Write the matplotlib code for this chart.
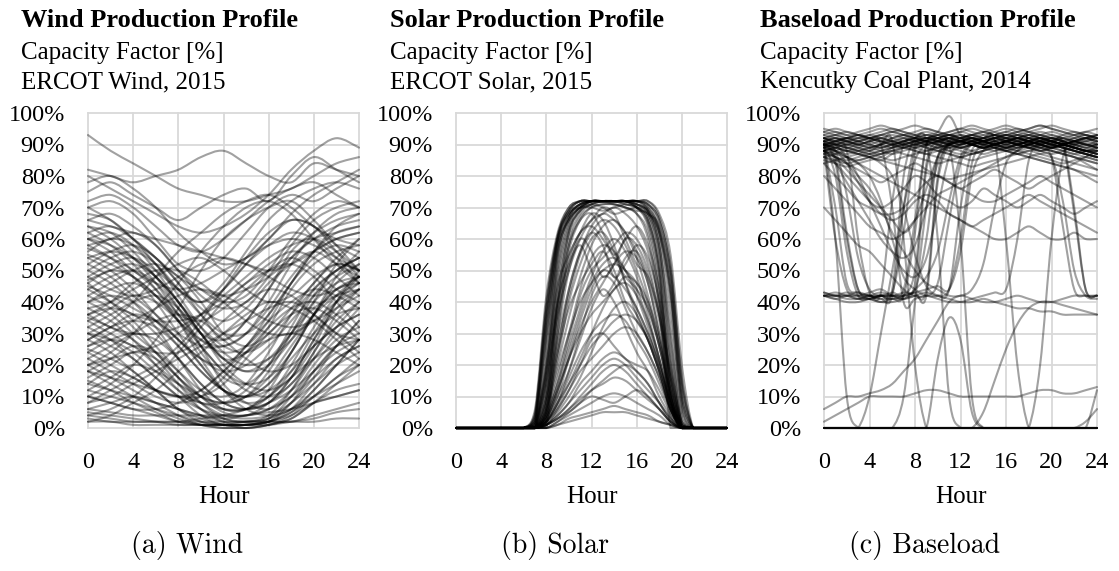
import matplotlib
matplotlib.use("Agg")
import matplotlib.pyplot as plt
from matplotlib.path import Path
from matplotlib.patches import PathPatch
from matplotlib.ticker import FuncFormatter

# ---------------------------------------------------------------- data
# Daily capacity-factor profiles [%]

WIND_HOURS = [0, 2, 4, 6, 8, 10, 12, 14, 16, 18, 20, 22, 24]
WIND_PROFILES = [
    [93, 88, 84, 80, 76, 74, 72, 72, 74, 76, 80, 84, 86],
    [82, 80, 78, 80, 82, 86, 88, 84, 80, 78, 84, 82, 80],
    [80, 76, 72, 68, 64, 62, 64, 68, 74, 82, 88, 92, 89],
    [75, 78, 74, 70, 66, 70, 74, 76, 72, 80, 86, 82, 78],
    [70, 72, 68, 60, 52, 50, 54, 62, 70, 74, 72, 76, 80],
    [68, 66, 60, 52, 44, 40, 46, 56, 66, 72, 76, 78, 76],
    [62, 64, 60, 54, 46, 36, 28, 34, 44, 54, 60, 62, 64],
    [60, 58, 54, 48, 40, 30, 22, 24, 32, 44, 52, 56, 58],
    [58, 60, 62, 58, 50, 42, 38, 40, 48, 58, 66, 70, 72],
    [55, 52, 48, 42, 34, 24, 16, 14, 20, 32, 44, 50, 54],
    [52, 56, 58, 54, 46, 38, 34, 38, 46, 52, 56, 52, 48],
    [50, 46, 40, 32, 22, 12, 6, 6, 12, 24, 36, 44, 48],
    [48, 52, 54, 50, 44, 40, 44, 52, 60, 66, 64, 58, 54],
    [45, 42, 38, 34, 28, 20, 12, 8, 10, 18, 30, 40, 46],
    [42, 46, 50, 52, 48, 40, 30, 26, 30, 38, 46, 54, 60],
    [40, 36, 30, 24, 16, 8, 3, 2, 4, 12, 24, 34, 40],
    [38, 40, 44, 48, 52, 54, 50, 44, 40, 42, 48, 52, 50],
    [35, 32, 28, 22, 14, 6, 2, 1, 3, 10, 20, 28, 32],
    [32, 36, 40, 42, 38, 30, 22, 18, 22, 30, 38, 42, 44],
    [30, 26, 22, 16, 10, 4, 1, 1, 2, 8, 18, 26, 30],
    [28, 32, 36, 34, 28, 22, 20, 26, 36, 46, 54, 58, 56],
    [25, 22, 18, 12, 6, 2, 1, 1, 2, 6, 14, 22, 26],
    [22, 26, 30, 34, 36, 34, 28, 22, 18, 20, 26, 32, 36],
    [20, 16, 12, 8, 4, 1, 0, 0, 1, 4, 10, 16, 20],
    [18, 22, 26, 24, 18, 12, 10, 14, 24, 36, 46, 52, 50],
    [15, 12, 8, 5, 2, 1, 0, 0, 1, 3, 8, 12, 14],
    [12, 16, 20, 18, 14, 10, 8, 10, 16, 26, 36, 44, 46],
    [10, 8, 6, 4, 2, 1, 1, 1, 2, 4, 8, 10, 12],
    [8, 10, 14, 18, 22, 26, 30, 34, 38, 40, 36, 30, 24],
    [5, 4, 3, 2, 1, 1, 1, 1, 1, 2, 3, 5, 6],
    [3, 2, 2, 2, 2, 2, 2, 2, 2, 2, 2, 3, 3],
    [20, 24, 30, 38, 46, 56, 64, 70, 72, 68, 60, 52, 46],
    [10, 14, 20, 28, 38, 50, 60, 66, 70, 72, 66, 58, 50],
    [30, 34, 40, 48, 56, 62, 68, 72, 74, 70, 64, 60, 58],
    [4, 6, 10, 16, 24, 32, 40, 46, 50, 52, 48, 40, 32],
    [2, 4, 8, 12, 18, 24, 30, 36, 40, 38, 34, 28, 22],
    [44, 48, 50, 46, 38, 30, 28, 34, 44, 56, 62, 66, 68],
    [64, 62, 56, 48, 38, 26, 14, 8, 6, 10, 18, 26, 34],
    [57, 54, 50, 44, 36, 26, 18, 12, 10, 14, 24, 36, 44],
    [47, 50, 52, 48, 40, 30, 20, 14, 12, 16, 26, 40, 50],
    [36, 38, 36, 30, 22, 14, 8, 6, 8, 14, 22, 30, 38],
    [26, 28, 26, 20, 14, 8, 4, 3, 4, 8, 14, 20, 24],
    [60, 56, 50, 46, 44, 46, 50, 54, 58, 60, 58, 54, 50],
    [66, 68, 64, 58, 50, 44, 40, 42, 50, 60, 68, 72, 70],
    [14, 18, 16, 12, 10, 12, 18, 26, 34, 40, 44, 42, 38],
    [54, 50, 44, 36, 28, 22, 18, 20, 26, 34, 42, 48, 52],
    [40, 44, 46, 42, 36, 34, 38, 44, 50, 54, 50, 44, 40],
    [6, 8, 10, 8, 6, 4, 3, 4, 6, 10, 16, 22, 26],
    [34, 30, 26, 24, 24, 28, 34, 40, 44, 42, 36, 30, 28],
    [24, 20, 16, 12, 10, 10, 14, 22, 30, 36, 38, 34, 28],
    [58, 54, 48, 40, 30, 20, 12, 10, 14, 24, 36, 48, 56],
    [46, 40, 34, 26, 18, 10, 5, 4, 8, 16, 28, 38, 44],
    [38, 34, 28, 20, 12, 6, 3, 2, 3, 8, 16, 26, 34],
    [28, 24, 18, 12, 6, 3, 1, 1, 2, 5, 12, 20, 28],
    [18, 14, 10, 6, 3, 1, 1, 0, 1, 3, 8, 14, 20],
    [12, 10, 8, 6, 4, 2, 1, 1, 2, 5, 10, 16, 22],
    [64, 60, 54, 46, 36, 28, 24, 26, 34, 46, 56, 62, 64],
    [52, 48, 42, 36, 30, 26, 26, 30, 38, 48, 56, 60, 62],
    [34, 38, 42, 40, 34, 26, 18, 14, 16, 24, 36, 46, 52],
    [24, 28, 30, 28, 22, 14, 8, 6, 8, 16, 28, 40, 48],
    [16, 20, 24, 22, 16, 10, 6, 6, 10, 20, 32, 42, 48],
    [44, 40, 36, 34, 34, 36, 40, 46, 52, 56, 54, 48, 42],
    [36, 32, 30, 30, 32, 36, 42, 48, 54, 58, 60, 56, 50],
    [20, 22, 24, 26, 30, 36, 44, 52, 58, 62, 60, 54, 46],
    [8, 12, 16, 20, 26, 34, 44, 54, 62, 66, 64, 56, 48],
    [50, 54, 56, 52, 44, 36, 30, 30, 36, 46, 56, 64, 68],
    [62, 58, 52, 44, 34, 22, 12, 6, 4, 6, 12, 20, 28],
    [40, 42, 40, 34, 26, 18, 12, 10, 12, 18, 26, 32, 36],
    [30, 28, 24, 18, 12, 8, 8, 12, 20, 30, 40, 46, 48],
    [22, 18, 14, 10, 8, 10, 16, 24, 32, 38, 40, 36, 30],
    [56, 60, 58, 52, 42, 32, 24, 20, 22, 28, 36, 42, 46],
    [70, 66, 60, 54, 48, 44, 42, 44, 48, 54, 60, 64, 66],
    [48, 44, 42, 44, 48, 52, 54, 52, 48, 44, 42, 44, 48],
    [26, 30, 34, 38, 42, 44, 42, 38, 34, 32, 34, 38, 42],
    [4, 3, 2, 2, 2, 3, 4, 6, 10, 16, 22, 26, 28],
    [2, 2, 1, 1, 1, 1, 1, 2, 3, 6, 10, 14, 18],
    [14, 12, 10, 8, 6, 4, 2, 2, 2, 2, 4, 6, 8],
    [32, 28, 22, 16, 10, 6, 4, 4, 6, 12, 22, 32, 40],
    [42, 38, 32, 24, 16, 10, 8, 10, 18, 30, 42, 50, 54],
    [54, 56, 54, 48, 40, 32, 26, 24, 28, 36, 44, 50, 54],
    [66, 64, 62, 60, 58, 56, 54, 52, 50, 52, 56, 60, 62],
    [72, 74, 70, 64, 58, 56, 60, 66, 72, 76, 78, 74, 70],
    [78, 80, 76, 70, 62, 56, 52, 54, 60, 68, 74, 78, 82],
    [10, 8, 6, 6, 8, 12, 18, 24, 28, 30, 28, 24, 20],
    [46, 50, 48, 42, 34, 28, 26, 30, 40, 52, 62, 68, 70],
    [36, 40, 46, 50, 50, 46, 40, 34, 30, 30, 34, 40, 44],
    [60, 62, 58, 50, 40, 30, 22, 18, 20, 28, 40, 52, 60],
    [18, 16, 14, 12, 10, 8, 6, 6, 8, 12, 18, 24, 28],
    [6, 5, 4, 4, 4, 4, 4, 4, 5, 6, 8, 10, 12],
    [28, 32, 34, 32, 26, 18, 12, 10, 14, 22, 30, 36, 38],
]

SOLAR_HOURS = list(range(25))
SOLAR_PROFILES = [
    [0, 0, 0, 0, 0, 0, 0, 6, 42, 62, 70, 72, 72, 72, 72, 72, 72, 71, 66, 50, 14, 0, 0, 0, 0],
    [0, 0, 0, 0, 0, 0, 0, 3, 36, 60, 69, 72, 72, 72, 72, 72, 72, 72, 68, 55, 20, 0, 0, 0, 0],
    [0, 0, 0, 0, 0, 0, 0, 1, 28, 58, 68, 71, 72, 72, 72, 72, 72, 70, 62, 40, 5, 0, 0, 0, 0],
    [0, 0, 0, 0, 0, 0, 0, 0, 18, 52, 66, 70, 72, 72, 72, 72, 71, 68, 55, 22, 0, 0, 0, 0, 0],
    [0, 0, 0, 0, 0, 0, 0, 0, 4, 38, 60, 68, 71, 72, 72, 71, 70, 64, 45, 8, 0, 0, 0, 0, 0],
    [0, 0, 0, 0, 0, 0, 0, 0, 0, 30, 56, 66, 70, 71, 71, 70, 68, 60, 38, 0, 0, 0, 0, 0, 0],
    [0, 0, 0, 0, 0, 0, 0, 4, 40, 61, 70, 72, 72, 72, 72, 72, 72, 72, 67, 52, 16, 0, 0, 0, 0],
    [0, 0, 0, 0, 0, 0, 0, 2, 32, 59, 68, 71, 72, 72, 72, 72, 71, 69, 60, 35, 3, 0, 0, 0, 0],
    [0, 0, 0, 0, 0, 0, 0, 0, 22, 55, 67, 71, 72, 72, 72, 72, 72, 69, 58, 30, 1, 0, 0, 0, 0],
    [0, 0, 0, 0, 0, 0, 0, 0, 10, 45, 63, 69, 71, 72, 72, 72, 70, 66, 50, 14, 0, 0, 0, 0, 0],
    [0, 0, 0, 0, 0, 0, 0, 5, 38, 60, 68, 70, 70, 69, 70, 71, 70, 68, 64, 48, 12, 0, 0, 0, 0],
    [0, 0, 0, 0, 0, 0, 0, 0, 14, 48, 64, 70, 72, 72, 72, 71, 70, 67, 52, 18, 0, 0, 0, 0, 0],
    [0, 0, 0, 0, 0, 0, 0, 2, 30, 56, 66, 70, 71, 70, 68, 69, 70, 69, 62, 42, 8, 0, 0, 0, 0],
    [0, 0, 0, 0, 0, 0, 0, 0, 6, 40, 62, 69, 72, 72, 72, 72, 70, 65, 48, 10, 0, 0, 0, 0, 0],
    [0, 0, 0, 0, 0, 0, 0, 2, 34, 60, 69, 72, 72, 72, 72, 72, 72, 71, 64, 46, 10, 0, 0, 0, 0],
    [0, 0, 0, 0, 0, 0, 0, 0, 20, 54, 67, 71, 72, 72, 72, 72, 71, 69, 58, 28, 1, 0, 0, 0, 0],
    [0, 0, 0, 0, 0, 0, 0, 0, 8, 42, 62, 69, 71, 72, 72, 72, 70, 66, 50, 12, 0, 0, 0, 0, 0],
    [0, 0, 0, 0, 0, 0, 0, 4, 38, 61, 69, 72, 72, 72, 72, 72, 72, 71, 66, 50, 15, 0, 0, 0, 0],
    [0, 0, 0, 0, 0, 0, 0, 0, 2, 34, 58, 67, 70, 71, 71, 70, 68, 62, 42, 4, 0, 0, 0, 0, 0],
    [0, 0, 0, 0, 0, 0, 0, 1, 26, 57, 67, 71, 72, 72, 72, 72, 72, 70, 63, 44, 7, 0, 0, 0, 0],
    [0, 0, 0, 0, 0, 0, 0, 0, 16, 50, 65, 70, 72, 72, 72, 72, 71, 68, 56, 24, 0, 0, 0, 0, 0],
    [0, 0, 0, 0, 0, 0, 0, 3, 34, 58, 66, 70, 72, 72, 71, 70, 69, 68, 62, 44, 10, 0, 0, 0, 0],
    [0, 0, 0, 0, 0, 0, 0, 0, 12, 40, 58, 66, 68, 62, 55, 60, 64, 58, 44, 20, 2, 0, 0, 0, 0],
    [0, 0, 0, 0, 0, 0, 0, 1, 20, 45, 55, 62, 66, 70, 68, 60, 52, 48, 36, 18, 2, 0, 0, 0, 0],
    [0, 0, 0, 0, 0, 0, 0, 0, 8, 26, 42, 55, 62, 66, 64, 58, 50, 40, 26, 10, 0, 0, 0, 0, 0],
    [0, 0, 0, 0, 0, 0, 0, 0, 6, 20, 35, 48, 58, 64, 66, 62, 54, 42, 28, 12, 1, 0, 0, 0, 0],
    [0, 0, 0, 0, 0, 0, 0, 0, 10, 30, 50, 60, 56, 48, 52, 60, 58, 50, 36, 16, 1, 0, 0, 0, 0],
    [0, 0, 0, 0, 0, 0, 0, 0, 4, 16, 30, 44, 54, 58, 56, 50, 42, 32, 20, 8, 0, 0, 0, 0, 0],
    [0, 0, 0, 0, 0, 0, 0, 2, 18, 40, 52, 58, 50, 42, 46, 54, 56, 48, 34, 14, 1, 0, 0, 0, 0],
    [0, 0, 0, 0, 0, 0, 0, 0, 5, 22, 40, 52, 60, 62, 56, 46, 38, 30, 20, 8, 0, 0, 0, 0, 0],
    [0, 0, 0, 0, 0, 0, 0, 0, 3, 12, 24, 36, 46, 52, 54, 50, 44, 34, 22, 8, 0, 0, 0, 0, 0],
    [0, 0, 0, 0, 0, 0, 0, 0, 8, 28, 44, 56, 64, 68, 66, 62, 56, 46, 30, 12, 0, 0, 0, 0, 0],
    [0, 0, 0, 0, 0, 0, 0, 0, 2, 10, 22, 34, 44, 50, 48, 44, 38, 30, 20, 8, 0, 0, 0, 0, 0],
    [0, 0, 0, 0, 0, 0, 0, 0, 4, 14, 26, 38, 48, 56, 60, 56, 48, 36, 22, 8, 0, 0, 0, 0, 0],
    [0, 0, 0, 0, 0, 0, 0, 0, 6, 24, 44, 56, 62, 58, 48, 52, 58, 54, 40, 16, 0, 0, 0, 0, 0],
    [0, 0, 0, 0, 0, 0, 0, 1, 16, 38, 54, 62, 64, 60, 54, 48, 44, 38, 26, 10, 0, 0, 0, 0, 0],
    [0, 0, 0, 0, 0, 0, 0, 0, 4, 14, 28, 42, 50, 54, 58, 62, 60, 52, 36, 12, 0, 0, 0, 0, 0],
    [0, 0, 0, 0, 0, 0, 0, 0, 10, 34, 52, 62, 68, 66, 58, 46, 36, 28, 18, 6, 0, 0, 0, 0, 0],
    [0, 0, 0, 0, 0, 0, 0, 0, 2, 8, 18, 30, 42, 48, 46, 38, 30, 24, 16, 6, 0, 0, 0, 0, 0],
    [0, 0, 0, 0, 0, 0, 0, 0, 3, 12, 22, 32, 40, 46, 52, 56, 54, 46, 30, 10, 0, 0, 0, 0, 0],
    [0, 0, 0, 0, 0, 0, 0, 0, 5, 18, 30, 40, 46, 50, 52, 50, 46, 38, 26, 10, 0, 0, 0, 0, 0],
    [0, 0, 0, 0, 0, 0, 0, 0, 2, 8, 14, 20, 26, 30, 34, 36, 34, 28, 18, 6, 0, 0, 0, 0, 0],
    [0, 0, 0, 0, 0, 0, 0, 0, 2, 8, 16, 24, 30, 34, 36, 34, 28, 22, 14, 6, 0, 0, 0, 0, 0],
    [0, 0, 0, 0, 0, 0, 0, 0, 1, 6, 12, 18, 22, 26, 30, 32, 30, 24, 16, 6, 0, 0, 0, 0, 0],
    [0, 0, 0, 0, 0, 0, 0, 0, 3, 10, 18, 28, 38, 44, 40, 32, 24, 18, 10, 4, 0, 0, 0, 0, 0],
    [0, 0, 0, 0, 0, 0, 0, 0, 1, 4, 8, 12, 16, 20, 22, 20, 16, 12, 8, 3, 0, 0, 0, 0, 0],
    [0, 0, 0, 0, 0, 0, 0, 0, 1, 3, 6, 9, 12, 14, 16, 15, 12, 9, 6, 2, 0, 0, 0, 0, 0],
    [0, 0, 0, 0, 0, 0, 0, 0, 0, 2, 4, 6, 8, 10, 11, 10, 8, 6, 4, 1, 0, 0, 0, 0, 0],
    [0, 0, 0, 0, 0, 0, 0, 0, 0, 1, 3, 4, 5, 6, 7, 6, 5, 4, 2, 1, 0, 0, 0, 0, 0],
    [0, 0, 0, 0, 0, 0, 0, 0, 2, 6, 12, 20, 28, 30, 26, 22, 20, 18, 12, 5, 0, 0, 0, 0, 0],
    [0, 0, 0, 0, 0, 0, 0, 0, 1, 5, 10, 16, 24, 32, 38, 40, 36, 28, 18, 6, 0, 0, 0, 0, 0],
    [0, 0, 0, 0, 0, 0, 0, 0, 2, 7, 14, 22, 30, 38, 44, 46, 42, 34, 22, 8, 0, 0, 0, 0, 0],
    [0, 0, 0, 0, 0, 0, 0, 0, 1, 3, 5, 8, 10, 9, 8, 10, 12, 10, 6, 2, 0, 0, 0, 0, 0],
    [0, 0, 0, 0, 0, 0, 0, 0, 6, 24, 38, 46, 52, 56, 50, 40, 34, 28, 18, 7, 0, 0, 0, 0, 0],
    [0, 0, 0, 0, 0, 0, 0, 0, 3, 12, 22, 30, 36, 40, 44, 48, 46, 40, 28, 10, 0, 0, 0, 0, 0],
    [0, 0, 0, 0, 0, 0, 0, 1, 14, 36, 50, 60, 66, 68, 70, 68, 64, 56, 40, 16, 0, 0, 0, 0, 0],
    [0, 0, 0, 0, 0, 0, 0, 0, 1, 3, 6, 10, 14, 18, 20, 18, 14, 10, 6, 2, 0, 0, 0, 0, 0],
    [0, 0, 0, 0, 0, 0, 0, 0, 1, 4, 8, 14, 18, 22, 24, 22, 18, 14, 8, 3, 0, 0, 0, 0, 0],
    [0, 0, 0, 0, 0, 0, 0, 0, 0, 2, 5, 8, 12, 15, 18, 20, 18, 14, 8, 2, 0, 0, 0, 0, 0],
    [0, 0, 0, 0, 0, 0, 0, 0, 0, 1, 2, 3, 4, 5, 5, 5, 4, 3, 2, 1, 0, 0, 0, 0, 0],
]

BASE_HOURS = list(range(25))
BASE_PROFILES = [
    [91, 92, 91, 90, 91, 92, 93, 92, 91, 90, 91, 92, 93, 92, 91, 90, 91, 92, 93, 92, 91, 90, 91, 92, 91],
    [88, 89, 90, 89, 88, 87, 89, 91, 92, 93, 92, 90, 89, 90, 91, 92, 91, 90, 89, 88, 87, 88, 89, 90, 89],
    [93, 94, 93, 92, 93, 94, 95, 94, 93, 92, 93, 94, 95, 94, 93, 92, 93, 94, 95, 96, 95, 94, 93, 92, 93],
    [86, 87, 88, 87, 86, 85, 87, 89, 90, 91, 90, 88, 87, 88, 89, 90, 89, 88, 87, 86, 85, 84, 85, 86, 85],
    [90, 90, 89, 88, 89, 90, 91, 90, 89, 88, 89, 90, 91, 92, 91, 90, 89, 88, 89, 90, 91, 90, 89, 88, 87],
    [92, 91, 90, 91, 92, 93, 92, 91, 90, 91, 92, 91, 90, 91, 92, 93, 94, 93, 92, 91, 90, 91, 92, 93, 92],
    [89, 88, 87, 88, 89, 90, 92, 93, 92, 91, 90, 89, 88, 87, 88, 89, 90, 91, 92, 91, 90, 89, 88, 87, 86],
    [94, 93, 92, 93, 94, 95, 94, 93, 92, 91, 92, 93, 94, 93, 92, 93, 94, 95, 94, 93, 92, 91, 90, 91, 92],
    [87, 86, 85, 86, 87, 88, 89, 90, 91, 90, 89, 88, 89, 90, 91, 92, 93, 92, 91, 90, 89, 88, 87, 86, 85],
    [91, 90, 91, 92, 91, 90, 89, 90, 91, 92, 93, 92, 91, 90, 89, 90, 91, 92, 91, 90, 89, 90, 91, 92, 93],
    [90, 91, 92, 93, 92, 91, 90, 91, 92, 93, 94, 99, 93, 92, 91, 90, 91, 92, 93, 94, 93, 92, 91, 90, 89],
    [85, 84, 83, 84, 85, 86, 88, 89, 88, 87, 86, 85, 84, 83, 84, 85, 86, 87, 88, 87, 86, 85, 84, 83, 82],
    [92, 93, 94, 93, 92, 91, 92, 93, 94, 95, 94, 93, 92, 93, 94, 95, 96, 95, 94, 93, 92, 93, 94, 93, 92],
    [89, 90, 91, 90, 89, 88, 87, 88, 89, 90, 91, 90, 89, 88, 87, 88, 89, 90, 91, 92, 91, 90, 89, 88, 88],
    [92, 93, 92, 91, 92, 93, 94, 93, 92, 91, 90, 91, 92, 93, 94, 93, 92, 91, 92, 93, 94, 93, 92, 91, 90],
    [90, 89, 88, 89, 90, 91, 90, 89, 88, 87, 88, 89, 90, 91, 90, 89, 88, 87, 88, 89, 90, 89, 88, 87, 86],
    [94, 95, 94, 93, 92, 93, 94, 95, 96, 95, 94, 93, 94, 95, 94, 93, 92, 93, 94, 95, 96, 95, 94, 93, 92],
    [88, 87, 86, 85, 86, 87, 88, 89, 90, 89, 88, 87, 86, 87, 88, 89, 90, 91, 90, 89, 88, 87, 86, 85, 84],
    [91, 90, 89, 90, 91, 92, 91, 90, 89, 90, 91, 92, 91, 90, 89, 90, 91, 92, 93, 92, 91, 90, 89, 88, 89],
    [93, 92, 91, 92, 93, 92, 91, 92, 93, 94, 93, 92, 91, 92, 93, 94, 95, 94, 93, 92, 91, 92, 93, 94, 93],
    [86, 85, 84, 85, 86, 87, 88, 87, 86, 85, 84, 85, 86, 87, 88, 89, 88, 87, 86, 85, 84, 83, 82, 81, 80],
    [89, 90, 89, 88, 87, 88, 89, 90, 91, 92, 91, 90, 89, 90, 91, 92, 91, 90, 91, 92, 93, 92, 91, 90, 91],
    [95, 94, 93, 94, 95, 96, 95, 94, 93, 92, 93, 94, 95, 96, 95, 94, 93, 94, 95, 96, 95, 94, 93, 94, 95],
    [84, 85, 86, 87, 88, 89, 90, 91, 90, 89, 88, 87, 86, 85, 86, 87, 88, 89, 90, 91, 90, 89, 88, 87, 86],
    [92, 91, 92, 93, 92, 91, 90, 89, 90, 91, 92, 93, 92, 91, 90, 89, 88, 87, 86, 85, 84, 83, 82, 80, 78],
    [87, 88, 89, 88, 87, 86, 85, 86, 87, 88, 89, 90, 91, 90, 89, 88, 89, 90, 91, 90, 89, 88, 87, 88, 89],
    [88, 86, 84, 82, 80, 78, 80, 82, 84, 82, 80, 78, 76, 78, 80, 82, 80, 78, 76, 78, 80, 82, 84, 86, 88],
    [90, 88, 84, 78, 72, 70, 72, 76, 80, 78, 74, 72, 70, 72, 76, 74, 72, 70, 72, 74, 72, 70, 68, 70, 72],
    [86, 84, 80, 76, 72, 68, 66, 68, 72, 74, 72, 68, 66, 64, 62, 60, 60, 62, 64, 62, 60, 60, 62, 60, 60],
    [80, 76, 72, 68, 64, 62, 60, 62, 66, 70, 74, 76, 78, 80, 82, 84, 86, 88, 90, 89, 88, 87, 86, 85, 84],
    [90, 86, 82, 78, 74, 70, 66, 62, 66, 76, 86, 90, 91, 90, 89, 90, 91, 90, 89, 88, 89, 90, 89, 88, 88],
    [88, 84, 78, 72, 66, 60, 56, 54, 58, 70, 84, 90, 91, 92, 91, 90, 89, 90, 91, 92, 91, 90, 89, 88, 87],
    [92, 90, 86, 80, 72, 64, 56, 50, 48, 54, 70, 86, 90, 91, 90, 89, 88, 89, 90, 91, 90, 89, 88, 87, 86],
    [84, 80, 76, 72, 70, 68, 68, 70, 74, 78, 80, 78, 76, 74, 72, 72, 74, 76, 78, 80, 78, 76, 74, 72, 70],
    [90, 88, 86, 84, 82, 80, 78, 76, 74, 72, 70, 68, 66, 64, 66, 68, 70, 72, 74, 72, 70, 68, 66, 64, 62],
    [90, 70, 46, 43, 42, 42, 43, 62, 88, 91, 92, 91, 90, 91, 92, 93, 92, 91, 90, 91, 92, 91, 90, 89, 90],
    [42, 42, 41, 41, 42, 43, 72, 90, 91, 92, 91, 90, 89, 90, 91, 92, 93, 92, 91, 90, 89, 90, 91, 92, 91],
    [88, 86, 62, 44, 42, 42, 42, 42, 46, 82, 90, 91, 92, 93, 92, 91, 90, 89, 90, 91, 92, 91, 90, 89, 88],
    [43, 42, 42, 41, 41, 42, 42, 43, 44, 60, 86, 90, 91, 90, 89, 90, 91, 92, 91, 90, 89, 90, 91, 92, 90],
    [91, 84, 60, 44, 42, 41, 41, 42, 50, 84, 91, 92, 93, 92, 91, 92, 93, 92, 91, 90, 91, 90, 68, 44, 42],
    [42, 41, 40, 40, 41, 42, 44, 80, 92, 93, 92, 91, 90, 91, 92, 93, 92, 91, 90, 89, 90, 91, 70, 44, 42],
    [89, 88, 86, 84, 80, 72, 60, 48, 44, 42, 42, 44, 60, 84, 90, 91, 92, 91, 90, 89, 88, 87, 86, 84, 82],
    [90, 80, 56, 42, 41, 40, 40, 41, 42, 43, 42, 44, 70, 88, 90, 91, 90, 89, 90, 91, 92, 91, 90, 89, 90],
    [88, 86, 84, 80, 76, 70, 62, 56, 50, 46, 44, 42, 42, 44, 52, 70, 84, 88, 90, 91, 90, 89, 88, 87, 86],
    [42, 43, 42, 41, 42, 43, 42, 41, 44, 48, 56, 72, 86, 90, 91, 92, 91, 90, 89, 90, 91, 92, 91, 90, 90],
    [91, 92, 91, 90, 91, 92, 91, 90, 91, 92, 91, 90, 91, 92, 91, 90, 91, 90, 89, 88, 86, 64, 44, 42, 42],
    [70, 66, 62, 58, 56, 52, 48, 44, 42, 42, 46, 66, 84, 90, 91, 92, 91, 90, 91, 92, 91, 90, 89, 88, 88],
    [42, 42, 43, 42, 41, 40, 41, 42, 62, 90, 92, 93, 92, 91, 90, 91, 92, 93, 92, 91, 90, 91, 92, 93, 92],
    [90, 88, 74, 54, 44, 42, 42, 42, 43, 44, 45, 44, 56, 80, 88, 90, 91, 90, 89, 88, 89, 90, 91, 90, 89],
    [88, 60, 44, 42, 41, 42, 43, 44, 66, 90, 91, 92, 91, 90, 89, 90, 91, 92, 91, 90, 89, 90, 91, 92, 91],
    [42, 41, 42, 43, 42, 41, 42, 70, 90, 91, 92, 93, 92, 91, 90, 91, 92, 93, 92, 91, 90, 89, 88, 87, 86],
    [91, 90, 88, 60, 43, 42, 41, 42, 43, 42, 78, 90, 91, 92, 91, 90, 89, 90, 91, 92, 91, 90, 89, 88, 87],
    [90, 89, 88, 87, 86, 85, 84, 83, 82, 81, 80, 79, 80, 81, 82, 83, 84, 85, 86, 87, 86, 72, 50, 42, 41],
    [43, 42, 42, 42, 43, 44, 42, 41, 42, 44, 80, 91, 92, 93, 92, 91, 90, 91, 92, 93, 92, 91, 90, 92, 93],
    [0, 0, 0, 0, 0, 0, 0, 0, 0, 0, 0, 0, 0, 0, 0, 0, 0, 0, 0, 0, 0, 0, 0, 0, 0],
    [0, 0, 0, 0, 0, 0, 0, 0, 0, 0, 0, 0, 0, 0, 0, 0, 0, 0, 0, 0, 0, 0, 0, 0, 0],
    [0, 0, 0, 0, 0, 0, 0, 0, 0, 0, 0, 0, 0, 0, 0, 0, 0, 0, 0, 0, 0, 0, 0, 0, 0],
    [90, 60, 10, 0, 0, 0, 0, 0, 0, 0, 0, 0, 0, 0, 0, 0, 0, 0, 0, 0, 0, 0, 0, 0, 0],
    [0, 0, 0, 0, 0, 0, 0, 0, 0, 0, 0, 0, 0, 0, 5, 15, 25, 33, 38, 40, 40, 39, 38, 37, 36],
    [0, 0, 0, 0, 0, 0, 0, 0, 0, 0, 22, 35, 28, 5, 0, 0, 0, 0, 0, 0, 0, 0, 0, 0, 0],
    [6, 8, 10, 10, 11, 12, 14, 18, 22, 28, 34, 40, 42, 41, 40, 40, 41, 42, 41, 40, 40, 41, 42, 42, 42],
    [2, 4, 6, 8, 10, 10, 10, 10, 11, 12, 12, 11, 10, 10, 10, 10, 10, 10, 11, 12, 12, 11, 11, 12, 13],
    [92, 91, 90, 89, 88, 90, 91, 60, 20, 0, 0, 0, 0, 0, 0, 0, 0, 0, 0, 0, 0, 0, 0, 2, 6],
    [0, 0, 0, 0, 10, 30, 50, 70, 85, 90, 91, 92, 91, 90, 89, 90, 91, 92, 91, 90, 89, 90, 91, 90, 89],
    [90, 91, 92, 91, 90, 89, 90, 91, 92, 91, 90, 89, 90, 91, 92, 91, 60, 20, 0, 0, 0, 0, 0, 0, 12],
    [88, 89, 90, 91, 92, 90, 70, 40, 41, 42, 41, 40, 40, 41, 42, 43, 44, 60, 85, 90, 91, 90, 89, 88, 87],
    [90, 89, 88, 87, 86, 84, 80, 70, 55, 45, 42, 41, 40, 40, 41, 40, 39, 38, 38, 37, 37, 36, 36, 36, 36],
    [91, 92, 91, 90, 89, 90, 91, 92, 91, 90, 89, 90, 60, 10, 0, 0, 0, 0, 0, 0, 0, 0, 0, 0, 0],
    [0, 0, 0, 0, 0, 0, 0, 0, 0, 0, 0, 0, 0, 0, 0, 0, 0, 0, 0, 20, 60, 86, 90, 91, 92],
    [90, 91, 92, 91, 90, 89, 90, 91, 92, 91, 60, 10, 0, 0, 0, 0, 0, 0, 0, 0, 0, 0, 0, 0, 0],
    [0, 0, 0, 0, 0, 0, 0, 10, 40, 70, 86, 90, 91, 92, 91, 90, 89, 90, 91, 92, 91, 90, 89, 88, 87],
]

HOUR_TICKS = [0, 4, 8, 12, 16, 20, 24]
CF_TICKS = [0, 10, 20, 30, 40, 50, 60, 70, 80, 90, 100]

PANELS = [
    dict(title="Wind Production Profile", line1="Capacity Factor [%]",
         line2="ERCOT Wind, 2015", caption="(a) Wind",
         hours=WIND_HOURS, profiles=WIND_PROFILES),
    dict(title="Solar Production Profile", line1="Capacity Factor [%]",
         line2="ERCOT Solar, 2015", caption="(b) Solar",
         hours=SOLAR_HOURS, profiles=SOLAR_PROFILES),
    dict(title="Baseload Production Profile", line1="Capacity Factor [%]",
         line2="Kencutky Coal Plant, 2014", caption="(c) Baseload",
         hours=BASE_HOURS, profiles=BASE_PROFILES),
]

# ---------------------------------------------------------------- layout (pixels)
W, H, DPI = 1119, 571, 100
AX_LEFT = [88, 456, 824]
AX_WIDTH = [271, 271, 273]
AX_TOP, AX_BOTTOM = 113, 428
TEXT_LEFT = [21, 390, 760]
CAPTION_X = [187, 555, 925]

plt.rcParams["font.family"] = ["Liberation Serif", "DejaVu Serif"]


def smooth_path(xs, ys):
    """Smoothed-line path through every (x, y) point (Catmull-Rom style
    cubic segments, control handles kept inside the 0-100 range)."""
    n = len(xs)
    clamp = lambda v: min(100.0, max(0.0, v))
    verts = [(xs[0], ys[0])]
    codes = [Path.MOVETO]
    for i in range(n - 1):
        xa, ya = (xs[i - 1], ys[i - 1]) if i > 0 else (xs[i], ys[i])
        xd, yd = (xs[i + 2], ys[i + 2]) if i + 2 < n else (xs[i + 1], ys[i + 1])
        c1 = (xs[i] + (xs[i + 1] - xa) / 6, clamp(ys[i] + (ys[i + 1] - ya) / 6))
        c2 = (xs[i + 1] - (xd - xs[i]) / 6, clamp(ys[i + 1] - (yd - ys[i]) / 6))
        verts += [c1, c2, (xs[i + 1], ys[i + 1])]
        codes += [Path.CURVE4] * 3
    return Path(verts, codes)


fig = plt.figure(figsize=(W / DPI, H / DPI), dpi=DPI)
fig.patch.set_facecolor("white")


def fy(y):
    return 1 - y / H


for i, p in enumerate(PANELS):
    ax = fig.add_axes([AX_LEFT[i] / W, fy(AX_BOTTOM), AX_WIDTH[i] / W,
                       (AX_BOTTOM - AX_TOP) / H])
    ax.set_xlim(0, 24)
    ax.set_ylim(0, 100)
    for prof in p["profiles"]:
        patch = PathPatch(smooth_path(p["hours"], prof), fill=False,
                          edgecolor="black", alpha=0.37, lw=1.5,
                          joinstyle="round", capstyle="round",
                          transform=ax.transData, clip_on=False, zorder=3)
        ax.add_patch(patch)
    ax.set_xticks(HOUR_TICKS)
    ax.set_yticks(CF_TICKS)
    ax.yaxis.set_major_formatter(FuncFormatter(lambda v, _: f"{v:.0f}%"))
    ax.grid(True, color="#d9d9d9", lw=1.3)
    for gl in ax.get_xgridlines() + ax.get_ygridlines():
        gl.set_clip_on(False)
    ax.set_axisbelow(True)
    for s in ax.spines.values():
        s.set_visible(False)
    ax.tick_params(axis="both", length=0, labelsize=17.5, colors="black")
    ax.tick_params(axis="x", pad=17)
    ax.tick_params(axis="y", pad=16.5)

    cx = (AX_LEFT[i] + AX_WIDTH[i] / 2) / W
    fig.text(cx, fy(503), "Hour", ha="center", va="baseline", fontsize=18)

    tx = TEXT_LEFT[i] / W
    fig.text(tx, fy(27), p["title"], ha="left", va="baseline",
             fontsize=19, fontweight="bold")
    fig.text(tx, fy(59), p["line1"], ha="left", va="baseline", fontsize=18)
    fig.text(tx, fy(88), p["line2"], ha="left", va="baseline", fontsize=18)

    fig.text(CAPTION_X[i] / W, fy(553), p["caption"], ha="center",
             va="baseline", fontsize=20, family="cmr10")

fig.savefig("out.png", dpi=DPI, facecolor="white")
